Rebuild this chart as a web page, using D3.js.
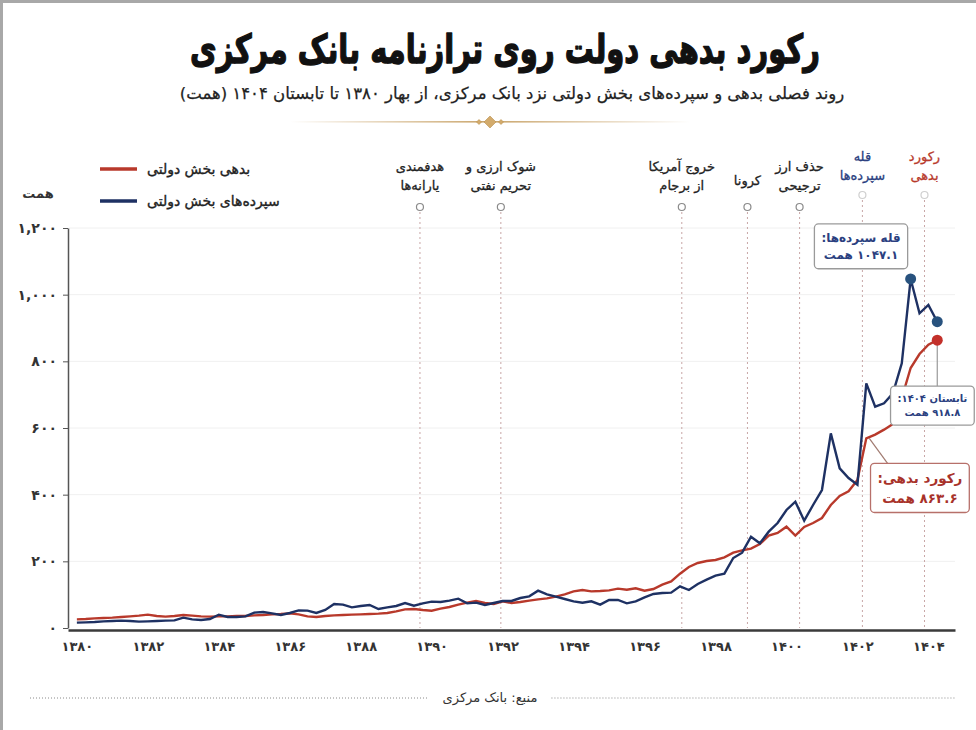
<!DOCTYPE html>
<html>
<head>
<meta charset="utf-8">
<script src="https://cdn.jsdelivr.net/npm/d3@7"></script>
<style>
body { margin: 0; background: #fff; }
svg { font-family: "DejaVu Sans", sans-serif; }
</style>
</head>
<body>
<script>
//#### DATA ####
// quarterly values (همت), spring 1380 .. summer 1404
var firstYear = 1380;
var seasons = ["بهار", "تابستان", "پاییز", "زمستان"];

var debt = [
  26, 27, 29, 30,   31, 33, 35, 37,   40, 36, 34, 36,   39, 37, 35, 34,
  35, 35, 36, 36,   38, 39, 41, 42,   44, 41, 35, 33,   36, 38, 39, 40,
  41, 42, 43, 45,   50, 56, 57, 54,   52, 58, 63, 70,   76, 81, 75, 72,
  80, 75, 78, 82,   86, 89, 94, 101,  110, 114, 110, 111, 113, 118, 115, 119,
  112, 117, 130, 140, 163, 183, 195, 201, 204, 212, 226, 233, 238, 252, 277, 285,
  304, 277, 303, 315, 330, 369, 396, 410, 444, 569, 580, 595, 612, 690, 780, 822,
  850, 863.6
];

var deposits = [
  16, 17, 18, 20,   21, 22, 21, 19,   20, 21, 22, 23,   31, 26, 24, 27,
  40, 33, 33, 35,   46, 48, 44, 39,   45, 53, 52, 45,   54, 72, 70, 62,
  66, 69, 57, 62,   66, 75, 67, 74,   79, 78, 82, 88,   74, 76, 69, 75,
  81, 81, 90, 95,   112, 101, 94, 87, 80, 76, 80, 70,   84, 84, 74, 80,
  92, 102, 105, 106, 125, 114, 132, 145, 157, 163, 210, 226, 274, 254, 289, 315,
  354, 379, 322, 369, 414, 584, 479, 450, 430, 734, 664, 674, 704, 794, 1047.1, 944,
  969, 918.8
];

var xTicks = [1380, 1382, 1384, 1386, 1388, 1390, 1392, 1394, 1396, 1398, 1400, 1402, 1404];
var yTicks = [0, 200, 400, 600, 800, 1000, 1200];

// event markers (fractional year) and their labels
var eventDates = [1389.67, 1391.95, 1397.05, 1398.9, 1400.37, 1402.14, 1403.89];
var eventLabels = [
  ["هدفمندی", "یارانه\u200cها"],
  ["شوک ارزی و", "تحریم نفتی"],
  ["خروج آمریکا", "از برجام"],
  ["کرونا"],
  ["حذف ارز", "ترجیحی"],
  ["قله", "سپرده\u200cها"],
  ["رکورد", "بدهی"]
];

var seriesNames = ["بدهی بخش دولتی", "سپرده\u200cهای بخش دولتی"];
var titleText = "رکورد بدهی دولت روی ترازنامه بانک مرکزی";
var subtitleText = "روند فصلی بدهی و سپرده\u200cهای بخش دولتی نزد بانک مرکزی، از بهار ۱۳۸۰ تا تابستان ۱۴۰۴ (همت)";
var sourceText = "منبع: بانک مرکزی";
//##############

var fa = function(s) {
  return String(s).replace(/\d/g, function(d) { return "۰۱۲۳۴۵۶۷۸۹"[d]; });
};

var red = "#b8392b", blue = "#1e3163", navy = "#2b3f7f";

var debtData = debt.map(function(v, i) { return {t: firstYear + i / 4, v: v, season: seasons[i % 4]}; });
var depData = deposits.map(function(v, i) { return {t: firstYear + i / 4, v: v, season: seasons[i % 4]}; });

var W = 976, H = 730;
var svg = d3.select("body").append("svg")
  .attr("width", W)
  .attr("height", H);

svg.append("rect").attr("width", W).attr("height", H).attr("fill", "#fff");
// frame edges of the clipping
svg.append("line").attr("x1", 0).attr("x2", W).attr("y1", 1.5).attr("y2", 1.5)
  .attr("stroke", "#a8a8a8").attr("stroke-width", 3);
svg.append("line").attr("x1", 1.5).attr("x2", 1.5).attr("y1", 0).attr("y2", H)
  .attr("stroke", "#a8a8a8").attr("stroke-width", 3);

function fitWidth(sel, target, size) {
  var w = sel.node().getComputedTextLength();
  sel.attr("font-size", size * target / w);
}

// #### title ####
// heavy headline: larger type, squeezed horizontally to the reference width
var title = svg.append("text")
  .attr("direction", "rtl")
  .attr("text-anchor", "middle")
  .attr("font-weight", "bold")
  .attr("font-size", 40)
  .attr("fill", "#111")
  .attr("stroke", "#111")
  .attr("stroke-width", 1.4)
  .attr("stroke-linejoin", "round")
  .text(titleText);
var tw = title.node().getComputedTextLength();
title.attr("transform", "translate(505,63) scale(" + (630 / tw) + ",1)");

var subtitle = svg.append("text")
  .attr("x", 512).attr("y", 99)
  .attr("direction", "rtl")
  .attr("text-anchor", "middle")
  .attr("font-size", 16)
  .attr("fill", "#222")
  .attr("stroke", "#222")
  .attr("stroke-width", 0.25)
  .text(subtitleText);
fitWidth(subtitle, 665, 16);

// ornament
var defs = svg.append("defs");
var grad = defs.append("linearGradient").attr("id", "gold").attr("x1", "0%").attr("x2", "100%");
grad.append("stop").attr("offset", "0%").attr("stop-color", "#c9a46a").attr("stop-opacity", 0);
grad.append("stop").attr("offset", "50%").attr("stop-color", "#c9a46a").attr("stop-opacity", 1);
grad.append("stop").attr("offset", "100%").attr("stop-color", "#c9a46a").attr("stop-opacity", 0);
svg.append("rect").attr("x", 290).attr("y", 121).attr("width", 400).attr("height", 1.6).attr("fill", "url(#gold)");
[[490, 6], [479, 2.5], [501, 2.5]].forEach(function(d) {
  svg.append("path")
    .attr("d", "M" + d[0] + "," + (122 - d[1]) + "L" + (d[0] + d[1]) + ",122L" + d[0] + "," + (122 + d[1]) + "L" + (d[0] - d[1]) + ",122Z")
    .attr("fill", "#d3ab6c").attr("stroke", "#b98f4e").attr("stroke-width", 0.6);
});

// #### scales ####
var x = d3.scaleLinear().domain([1379.75, 1404.75]).range([68, 955]);
var y = d3.scaleLinear().domain([0, 1200]).range([628, 228]);

// gridlines
svg.append("g").selectAll("line")
  .data(yTicks.slice(1))
  .enter().append("line")
  .attr("x1", 69).attr("x2", 955)
  .attr("y1", function(d) { return y(d); }).attr("y2", function(d) { return y(d); })
  .attr("stroke", "#f0f0f0");

// event lines
var evG = svg.append("g");
eventDates.forEach(function(t, i) {
  var hi = i >= 5;
  var col = i == 5 ? navy : (i == 6 ? red : "#222");
  var top = hi ? 195 : 207;
  evG.append("line")
    .attr("x1", x(t)).attr("x2", x(t))
    .attr("y1", top + 5).attr("y2", 628)
    .attr("stroke", "#c8a6a6")
    .attr("stroke-width", 1)
    .attr("stroke-dasharray", "2,3");
  evG.append("circle")
    .attr("cx", x(t)).attr("cy", top).attr("r", 3.5)
    .attr("fill", "#fff")
    .attr("stroke", hi ? "#cfcfcf" : "#8a8a8a")
    .attr("stroke-width", 1.2);
  var lines = eventLabels[i];
  var base = hi ? 161 : (lines.length == 1 ? 185 : 171);
  lines.forEach(function(s, k) {
    evG.append("text")
      .attr("x", x(t)).attr("y", base + k * 19)
      .attr("direction", "rtl")
      .attr("text-anchor", "middle")
      .attr("font-size", 13)
      .attr("fill", col)
      .attr("stroke", col)
      .attr("stroke-width", 0.3)
      .text(s);
  });
});

// #### axes ####
var yAxis = d3.axisLeft(y)
  .tickValues(yTicks)
  .tickSize(5)
  .tickSizeOuter(0)
  .tickPadding(6)
  .tickFormat(function(d) { return fa(d3.format(",")(d)); });

var gy = svg.append("g")
  .attr("transform", "translate(68,0)")
  .call(yAxis)
  .attr("font-family", "DejaVu Sans");
gy.select(".domain").attr("stroke", "#555").attr("stroke-width", 1.5);
gy.selectAll(".tick line").attr("stroke", "#555");
gy.selectAll("text").attr("font-size", 14).attr("font-weight", "bold").attr("fill", "#333");

var xAxis = d3.axisBottom(x)
  .tickValues(xTicks)
  .tickSize(0)
  .tickSizeOuter(0)
  .tickPadding(12)
  .tickFormat(fa);

var gx = svg.append("g")
  .attr("transform", "translate(0,630)")
  .call(xAxis)
  .attr("font-family", "DejaVu Sans");
gx.select(".domain").attr("stroke", "#3a3a3a").attr("stroke-width", 2.5);
gx.selectAll("text").attr("font-size", 13).attr("font-weight", "bold").attr("fill", "#333");

svg.append("text")
  .attr("x", 38).attr("y", 198)
  .attr("direction", "rtl")
  .attr("text-anchor", "middle")
  .attr("font-size", 13)
  .attr("font-weight", "bold")
  .attr("fill", "#333")
  .text("همت");

// #### lines ####
var line = d3.line()
  .x(function(d) { return x(d.t); })
  .y(function(d) { return y(d.v); });

svg.append("path")
  .datum(debtData)
  .attr("fill", "none")
  .attr("stroke", red)
  .attr("stroke-width", 2.4)
  .attr("d", line);

svg.append("path")
  .datum(depData)
  .attr("fill", "none")
  .attr("stroke", blue)
  .attr("stroke-width", 2.4)
  .attr("d", line);

var peakIdx = d3.maxIndex(depData, function(d) { return d.v; });
var peak = depData[peakIdx];
var lastDep = depData[depData.length - 1];
var lastDebt = debtData[debtData.length - 1];
var jump = debtData[89];

// callout leaders
svg.append("line")
  .attr("x1", x(lastDebt.t)).attr("x2", x(lastDebt.t))
  .attr("y1", y(lastDebt.v)).attr("y2", y(lastDebt.v) + 46)
  .attr("stroke", "#999").attr("stroke-width", 1.2);
svg.append("line")
  .attr("x1", x(jump.t) + 3).attr("y1", y(jump.v))
  .attr("x2", x(jump.t) + 22).attr("y2", y(jump.v) + 26)
  .attr("stroke", "#a07a70").attr("stroke-width", 1.2);

// end dots
[[peak, "#28527e"], [lastDep, "#28527e"], [lastDebt, "#c3302a"]].forEach(function(p) {
  svg.append("circle")
    .attr("cx", x(p[0].t)).attr("cy", y(p[0].v))
    .attr("r", 5.5)
    .attr("fill", p[1]);
});

function addBox(lines, right, top, color, fs, stroke) {
  var g = svg.append("g");
  var rect = g.append("rect");
  var lh = fs * 1.45;
  var texts = lines.map(function(s) {
    return g.append("text")
      .attr("direction", "rtl")
      .attr("text-anchor", "middle")
      .attr("font-size", fs)
      .attr("font-weight", "bold")
      .attr("fill", color)
      .text(s);
  });
  var w = d3.max(texts, function(t) { return t.node().getComputedTextLength(); }) + 14;
  var h = lh * lines.length + 10;
  rect.attr("x", right - w).attr("y", top)
    .attr("width", w).attr("height", h)
    .attr("rx", 4)
    .attr("fill", "#fff")
    .attr("stroke", stroke)
    .attr("stroke-width", 1.3);
  texts.forEach(function(t, i) {
    t.attr("x", right - w / 2).attr("y", top + 5 + lh * (i + 0.5)).attr("dy", "0.36em");
  });
}

addBox(["قله سپرده\u200cها:", fa(peak.v) + " همت"],
  x(peak.t) - 3, y(peak.v) - 55, navy, 12, "#9a9a9a");
addBox([lastDep.season + " " + fa(Math.floor(lastDep.t)) + ":", fa(lastDep.v) + " همت"],
  x(lastDebt.t) + 37, y(lastDebt.v) + 46, navy, 10, "#9a9a9a");
addBox(["رکورد بدهی:", fa(lastDebt.v) + " همت"],
  x(jump.t) + 103, y(jump.v) + 25, "#a8322a", 13.5, "#b7706a");

// #### legend ####
[[red, 169], [blue, 201]].forEach(function(d, i) {
  svg.append("line")
    .attr("x1", 100).attr("x2", 137)
    .attr("y1", d[1]).attr("y2", d[1])
    .attr("stroke", d[0]).attr("stroke-width", 3.5);
  var t = svg.append("text")
    .attr("y", d[1]).attr("dy", "0.35em")
    .attr("direction", "rtl")
    .attr("text-anchor", "middle")
    .attr("font-size", 14)
    .attr("fill", "#222")
    .attr("stroke", "#222")
    .attr("stroke-width", 0.35)
    .text(seriesNames[i]);
  t.attr("x", 147 + t.node().getComputedTextLength() / 2);
});

// #### source ####
var src = svg.append("text")
  .attr("x", 490).attr("y", 697).attr("dy", "0.35em")
  .attr("direction", "rtl")
  .attr("text-anchor", "middle")
  .attr("font-size", 13)
  .attr("fill", "#333")
  .text(sourceText);
var sw = src.node().getComputedTextLength() / 2 + 14;
[[30, 490 - sw], [490 + sw, 955]].forEach(function(d) {
  svg.append("line")
    .attr("x1", d[0]).attr("x2", d[1])
    .attr("y1", 698).attr("y2", 698)
    .attr("stroke", "#8a8a8a")
    .attr("stroke-width", 1)
    .attr("stroke-dasharray", "1,2");
});
</script>
</body>
</html>
